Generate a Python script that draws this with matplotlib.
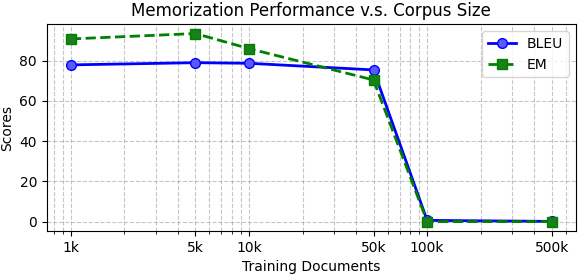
import numpy as np
import matplotlib.pyplot as plt
from matplotlib.ticker import NullFormatter

docs = [1000, 5000, 10000, 50000, 100000, 500000]
tick_labels = ['1k', '5k', '10k', '50k', '100k', '500k']
bleu = [77.9, 79.0, 78.7, 75.4, 0.6, 0.1]
em = [90.8, 93.5, 86.0, 70.4, 0.0, 0.0]

fig, ax = plt.subplots(figsize=(5.78, 2.74), dpi=100)
ax.plot(docs, bleu, 'o-', color='blue', linewidth=2, markersize=7,
        markerfacecolor=(0.35, 0.35, 1.0), label='BLEU')
ax.plot(docs, em, 's--', color='green', linewidth=2, markersize=7,
        markerfacecolor=(0.1, 0.5, 0.1), label='EM')
ax.set_xscale('log')
ax.set_xticks(docs)
ax.set_xticklabels(tick_labels)
ax.xaxis.set_minor_formatter(NullFormatter())
ax.set_yticks([0, 20, 40, 60, 80])
ax.grid(True, which='both', linestyle='--', color='gray', alpha=0.45)
ax.set_xlabel('Training Documents')
ax.set_ylabel('Scores')
ax.set_title('Memorization Performance v.s. Corpus Size', fontsize=12)
ax.legend(loc='upper right')
plt.subplots_adjust(left=0.081, right=0.996, top=0.912, bottom=0.157)
plt.savefig('out.png')
